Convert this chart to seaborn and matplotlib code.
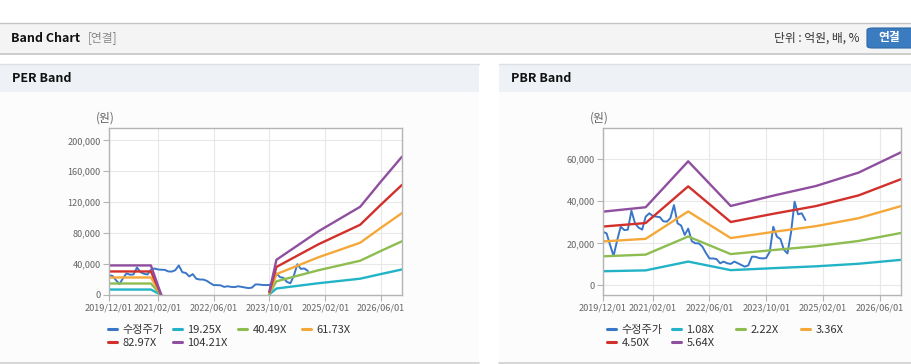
import numpy as np
import pandas as pd
import matplotlib.pyplot as plt
import seaborn as sns
from matplotlib.patches import Rectangle, FancyBboxPatch
from matplotlib.lines import Line2D
import matplotlib.ticker as mticker

# monthly adjusted price, 2019/12 onwards
price = [25500, 24700, 19000, 14000, 21600, 27900, 26300, 26500, 35500, 29500,
         27500, 26500, 32700, 34300, 33000, 32700, 32500, 30500, 30300, 32000,
         38200, 29500, 28500, 24000, 27000, 21000, 20000, 20000, 18500, 15500,
         12800, 12800, 12500, 10500, 11300, 10500, 10200, 11300, 10500, 9700,
         8900, 9500, 13650, 13600, 13000, 12800, 13000, 16000, 27900, 23200,
         22000, 17000, 15200, 25000, 39800, 33800, 34300, 31100]
price_start = '2019-12-01'

# EPS base for PER band (NaN = no band)
eps_dates = ['2019-12-01', '2020-12-01', '2021-03-01', '2022-06-01', '2023-10-01',
             '2023-12-01', '2024-12-01', '2025-12-01', '2026-06-01', '2026-12-01']
eps = [367, 367, 0, np.nan, 45, 437, 790, 1095, 1410, 1717]
per_mult = [19.25, 40.49, 61.73, 82.97, 104.21]

# BPS base for PBR band
bps_dates = ['2019-12-01', '2020-12-01', '2021-12-01', '2022-12-01', '2023-12-01',
             '2024-12-01', '2025-12-01', '2026-12-01']
bps = [6220, 6590, 10470, 6700, 7570, 8385, 9510, 11230]
pbr_mult = [1.08, 2.22, 3.36, 4.50, 5.64]

price_label = '수정주가'
band_colors = ['#22b3c6', '#8dbd50', '#f5a83a', '#d2302b', '#8f4f9f']
price_color = '#3a76c8'
xtick_dates = ['2019-12-01', '2021-02-01', '2022-06-01', '2023-10-01', '2025-02-01', '2026-06-01']

sns.set_theme(style='white')
plt.rcParams['font.family'] = ['Noto Sans CJK KR', 'DejaVu Sans']

W, H = 912, 364
fig = plt.figure(figsize=(W / 100, H / 100), dpi=100)
fig.patch.set_facecolor('white')


def box(x0, y0, x1, y1, color):
    fig.add_artist(Rectangle((x0 / W, 1 - y1 / H), (x1 - x0) / W, (y1 - y0) / H,
                             transform=fig.transFigure, facecolor=color,
                             edgecolor='none', zorder=-5))


def hline(x0, x1, y, color, lw=1.0):
    fig.add_artist(Line2D([x0 / W, x1 / W], [1 - y / H, 1 - y / H],
                          transform=fig.transFigure, color=color, lw=lw, zorder=-4))


def text(x, y, s, **kw):
    fig.text(x / W, 1 - y / H, s, **kw)


# header
box(0, 23, W, 53, '#f4f4f4')
hline(0, W, 22.5, '#c4c4c4')
hline(0, W, 53.5, '#c8c8c8', 1.3)
text(11, 38, 'Band Chart', fontsize=9, fontweight='bold', color='#111', va='center')
text(88, 38, '[연결]', fontsize=8.5, color='#888', va='center')
text(860, 38, '단위 : 억원, 배, %', fontsize=8.5, color='#333', va='center', ha='right')
fig.add_artist(FancyBboxPatch((867 / W, 1 - 48 / H), 50 / W, 20 / H,
                              boxstyle='round,pad=0,rounding_size=0.006',
                              transform=fig.transFigure, facecolor='#3b7cc1',
                              edgecolor='#2e69a6', lw=0.8, zorder=-3))
text(889, 38, '연결', fontsize=8.5, fontweight='bold', color='white', va='center', ha='center')

# panels
for (x0, x1, title) in [(0, 479, 'PER Band'), (499, W, 'PBR Band')]:
    box(x0, 64, x1, 362, '#fcfcfc')
    box(x0, 64, x1, 92, '#eef2f7')
    hline(x0, x1, 64, '#dcdfe4')
    hline(x0, x1, 362.5, '#d0d0d0', 1.2)
    text(x0 + 12, 79, title, fontsize=9, fontweight='bold', color='#111', va='center')


def band_frame(dates, base, mults):
    rows = []
    seg = 0
    for d, v in zip(dates, base):
        if np.isnan(v):
            seg += 1
            continue
        for m in mults:
            rows.append({'date': pd.Timestamp(d), 'value': v * m,
                         'series': f'{m:.2f}X', 'seg': seg})
    return pd.DataFrame(rows)


price_df = pd.DataFrame({'date': pd.date_range(price_start, periods=len(price), freq='MS'),
                         'value': price})


def draw_chart(rect_px, dates, base, mults, ylim, yticks, won_x, leg_x):
    x0, y0, x1, y1 = rect_px
    ax = fig.add_axes([x0 / W, 1 - y1 / H, (x1 - x0) / W, (y1 - y0) / H])
    ax.set_facecolor('white')
    labels = [f'{m:.2f}X' for m in mults]
    bdf = band_frame(dates, base, mults)
    sns.lineplot(data=price_df, x='date', y='value', color=price_color, lw=1.4, ax=ax)
    sns.lineplot(data=bdf, x='date', y='value', hue='series', units='seg', estimator=None,
                 hue_order=labels, palette=dict(zip(labels, band_colors)),
                 lw=1.7, legend=False, ax=ax)
    ax.set_xlim(pd.Timestamp('2019-12-01'), pd.Timestamp('2026-12-01'))
    ax.set_ylim(*ylim)
    ax.set_yticks(yticks)
    ax.yaxis.set_major_formatter(mticker.FuncFormatter(lambda v, p: f'{v:,.0f}'))
    xt = pd.to_datetime(xtick_dates)
    ax.set_xticks(xt)
    ax.set_xticklabels([d.strftime('%Y/%m/%d') for d in xt])
    ax.set_xlabel('')
    ax.set_ylabel('')
    ax.grid(True, color='#e8e8e8', lw=0.8)
    ax.set_axisbelow(True)
    for s in ax.spines.values():
        s.set_color('#b4b4b4')
        s.set_linewidth(1.0)
    ax.tick_params(axis='both', length=4, width=0.8, color='#b4b4b4',
                   labelcolor='#666', labelsize=6.6, pad=2)
    ax.tick_params(axis='x', bottom=True)
    ax.tick_params(axis='y', left=True)
    text(won_x, 118, '(원)', fontsize=8.5, color='#666', ha='center', va='center')

    names = [price_label] + labels
    colors = [price_color] + band_colors
    for i, (n, c) in enumerate(zip(names, colors)):
        col, row = i % 4, i // 4
        h = Line2D([], [], color=c, lw=2.2)
        leg = ax.legend([h], [n], loc='center left', frameon=False,
                        bbox_to_anchor=(leg_x[col] / W, 1 - (330 + 13 * row) / H),
                        bbox_transform=fig.transFigure, borderpad=0, borderaxespad=0,
                        handlelength=0.85, handletextpad=0.45, fontsize=8,
                        labelcolor='#333')
        ax.add_artist(leg)
    ax.legend_ = None
    return ax


draw_chart((109, 128, 402, 295), eps_dates, eps, per_mult, (0, 216000),
           [0, 40000, 80000, 120000, 160000, 200000], 105, [108, 173, 238, 302])
draw_chart((603, 128, 901, 295), bps_dates, bps, pbr_mult, (-4600, 74900),
           [0, 20000, 40000, 60000], 599, [607, 672, 736, 801])

fig.savefig('out.png', dpi=100)
